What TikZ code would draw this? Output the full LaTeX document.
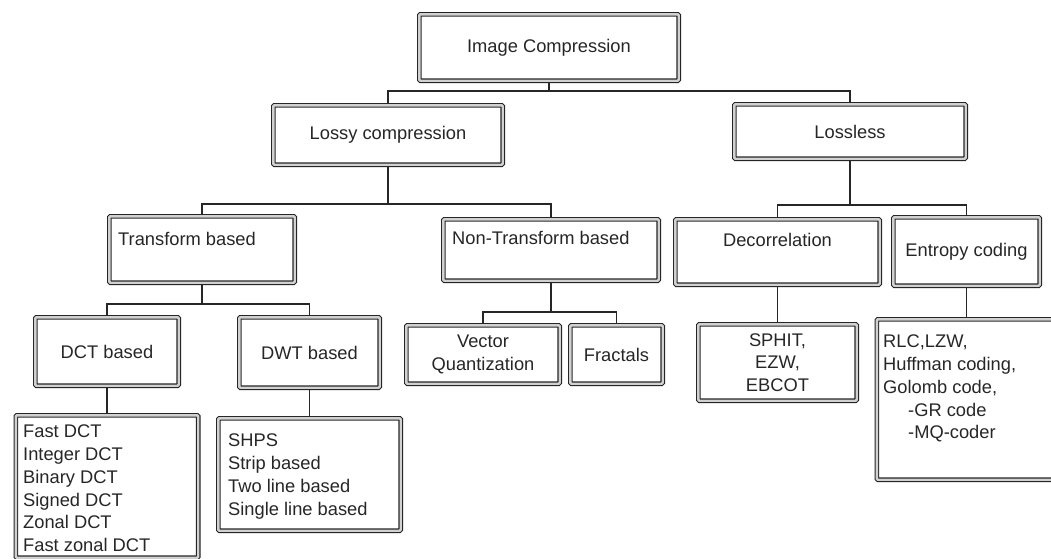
\documentclass[tikz,border=0pt]{standalone}
\usepackage{fontspec}
\setmainfont{Liberation Sans}
\usetikzlibrary{backgrounds}

\tikzset{
  box/.style = {draw=black!85, line width=1.1pt, double=black!18, double distance=2.4pt,
                rounded corners=1pt, inner sep=0pt, text=black!85},
  wh/.style 2 args = {minimum width=#1pt, minimum height=#2pt},
  lbl/.style = {inner sep=0pt, text=black!85},
  link/.style = {draw=black!85, line width=1.3pt},
}

\begin{document}
\begin{tikzpicture}[x=1pt, y=-1pt, font=\fontsize{18.3}{22.7}\selectfont]
  \useasboundingbox (0,0) rectangle (1051,558);

  % top two levels
  \node[box, wh={259.4}{66.4}] (comp) at (549,47.5) {Image Compression};
  \node[box, wh={229.4}{59.4}] (lossy) at (388,135) {Lossy compression};
  \node[box, wh={231.4}{54.4}] (lossless) at (850,131.5) {Lossless};

  % third level
  \node[box, wh={185.4}{66.4}] (trans) at (202,249.5) {};
  \node[lbl, anchor=base west] (trans-txt) at (118,245) {Transform based};
  \node[box, wh={215.4}{61.4}] (nontrans) at (551,250) {};
  \node[lbl, anchor=base west] (nontrans-txt) at (452,244.5) {Non-Transform based};
  \node[box, wh={204.4}{65.4}] (decor) at (777.5,252) {};
  \node[lbl, anchor=base] (decor-txt) at (777.5,246.5) {Decorrelation};
  \node[box, wh={146.4}{68.4}] (entropy) at (966.5,251.5) {Entropy coding};

  % fourth level
  \node[box, wh={143.4}{68.4}] (dct) at (107,351.5) {DCT based};
  \node[box, wh={140.4}{70.4}] (dwt) at (309.5,352.5) {DWT based};
  \node[box, wh={153.4}{58.4}, align=center] (vq) at (483,354.5) {Vector\\Quantization};
  \node[box, wh={92.4}{58.4}] (fract) at (616.5,354.5) {Fractals};
  \node[box, wh={158.4}{76.4}, align=center] (sphit) at (777.5,362.5) {SPHIT,\\EZW,\\EBCOT};

  % lists at the bottom
  \node[box, wh={182.4}{142.4}] (dctlist) at (107,486.5) {};
  \node[lbl, align=left, anchor=north west] (dctlist-txt) at (23,425)
    {Fast DCT\\Integer DCT\\Binary DCT\\Signed DCT\\Zonal DCT\\Fast zonal DCT};
  \node[box, wh={182.4}{112.4}] (dwtlist) at (309.5,474.5) {};
  \node[lbl, align=left, anchor=north west] (dwtlist-txt) at (228,434)
    {SHPS\\Strip based\\Two line based\\Single line based};
  \node[box, wh={179.4}{160.4}] (enclist) at (966.5,399.5) {};
  \node[lbl, align=left, anchor=north west] (enclist-txt) at (883,335)
    {RLC,LZW,\\Huffman coding,\\Golomb code,\\\hspace*{25pt}-GR code\\\hspace*{25pt}-MQ-coder};

  % bus points
  \coordinate (b1) at (549,91);
  \coordinate (b2) at (388,204);
  \coordinate (b3) at (202,304);
  \coordinate (b4) at (551,312);
  \coordinate (b5) at (850,205);

  \begin{scope}[on background layer]
    \draw[link] (comp) -- (b1);
    \draw[link] (lossy) |- (b1) -| (lossless);
    \draw[link] (lossy) -- (b2);
    \draw[link] (trans) |- (b2) -| (nontrans);
    \draw[link] (trans) -- (b3);
    \draw[link] (dct) |- (b3) -| (dwt);
    \draw[link] (nontrans) -- (b4);
    \draw[link] (vq) |- (b4) -| (fract);
    \draw[link] (lossless) -- (b5);
    \draw[link] (decor) |- (b5) -| (entropy);
    \draw[link] (dct) -- (dctlist);
    \draw[link] (dwt) -- (dwtlist);
    \draw[link] (decor) -- (sphit);
    \draw[link] (entropy) -- (enclist);
  \end{scope}
\end{tikzpicture}
\end{document}
